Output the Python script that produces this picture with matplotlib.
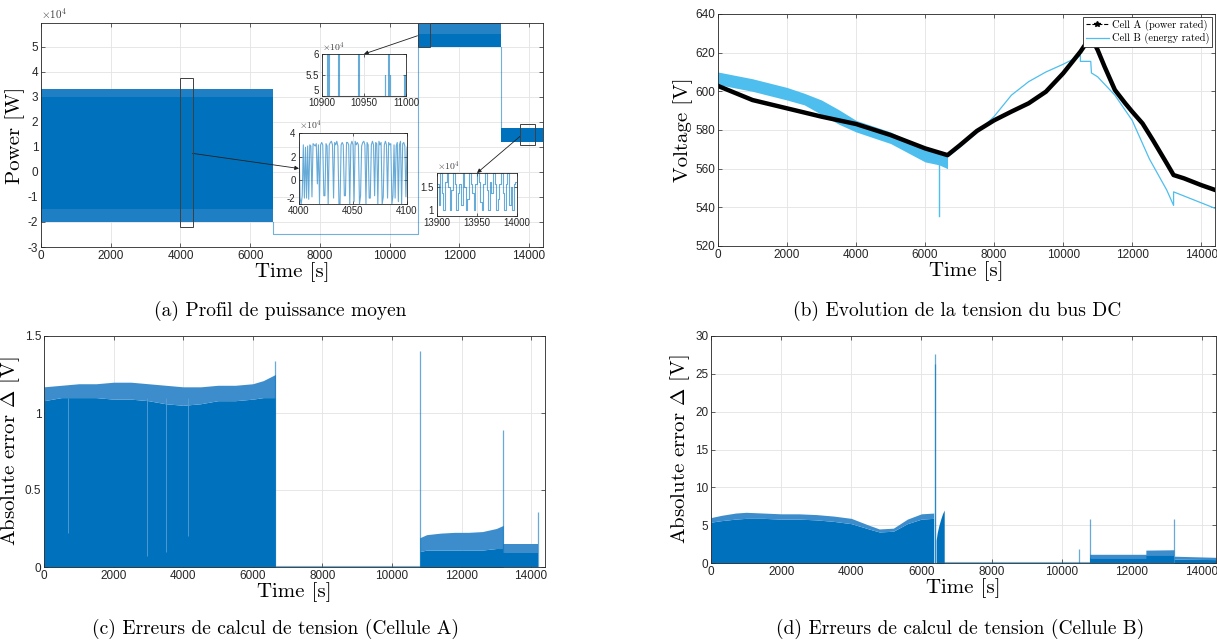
import numpy as np
import matplotlib.pyplot as plt
from matplotlib.patches import Rectangle
from matplotlib.lines import Line2D

plt.rcParams['axes.unicode_minus'] = False
plt.rcParams['mathtext.fontset'] = 'cm'

# ---- (a) power profile (W) ----
pa_t1 = [0, 6650]
pa_lo1 = [-2.0e4, -2.0e4]
pa_hi1 = [3.3e4, 3.3e4]
pa_link_t = [6650, 6650, 10800, 10800]
pa_link_v = [-2.0e4, -2.5e4, -2.5e4, 5.0e4]
pa_t2 = [10800, 13200]
pa_lo2 = [5.0e4, 5.0e4]
pa_hi2 = [5.95e4, 5.95e4]
pa_drop_t = [13200, 13200]
pa_drop_v = [5.0e4, 1.75e4]
pa_t3 = [13200, 14400]
pa_lo3 = [1.2e4, 1.2e4]
pa_hi3 = [1.75e4, 1.75e4]

# zoom windows (x0, x1, y0, y1)
zoom_boxes = [(3980, 4350, -2.2e4, 3.75e4), (10800, 11150, 5.0e4, 5.95e4), (13750, 14180, 1.06e4, 1.91e4)]

# inset 1 : 10900-11000 s, spikes above 5e4
in1_spike_t = [10907, 10908, 10920, 10943, 10975, 10979, 10981, 10998]
in1_spike_v = [6.0e4, 6.0e4, 6.0e4, 6.0e4, 5.5e4, 6.0e4, 5.5e4, 5.5e4]

# inset 2 : 4000-4100 s, one value per second (x1e4 W)
in2_t = list(range(4000, 4101))
in2_v = [3.2, -1.5, -2.0, -1.3, 3.0, -1.5, 2.8, -1.5, 2.9, -1.6,
         3.0, 2.9, -1.4, 3.1, 3.0, 2.9, 3.1, -0.3, 3.0, -2.0,
         3.0, 3.2, 3.0, -1.3, -1.3, 3.1, 2.9, -2.0, 3.0, 3.2,
         3.3, 3.0, -1.5, 3.2, 3.0, 3.3, 2.9, -2.0, -2.0, 3.0,
         3.2, 3.0, -1.3, -1.3, 3.2, 3.2, 3.0, -2.0, 3.0, 3.3,
         3.0, -1.8, 3.3, 3.0, 3.2, 3.0, -2.0, -1.3, 2.9, 3.2,
         3.3, 3.0, -2.0, 3.2, 3.0, -1.5, -1.5, 3.0, 3.3, 3.0,
         -1.3, 3.2, 3.1, -2.0, 3.3, 3.0, 3.2, -2.0, -1.4, 3.0,
         3.3, 3.0, -1.5, 3.2, 3.0, 3.1, -2.0, -1.3, 3.0, -1.5,
         2.9, 3.2, -1.8, 3.0, 3.3, -2.0, 3.1, 3.2, 2.9, -1.4,
         2.8]

# inset 3 : 13900-14000 s, every 2 s (x1e4 W)
in3_t = list(range(13900, 14001, 2))
in3_v = [1.55, 1.2, 1.75, 1.4, 1.1, 1.6, 1.75, 1.5, 1.1, 1.45,
         1.75, 1.55, 1.1, 1.4, 1.55, 1.2, 1.75, 1.5, 1.1, 1.3,
         1.75, 1.55, 1.4, 1.1, 1.55, 1.75, 1.6, 1.25, 1.1, 1.55,
         1.75, 1.45, 1.1, 1.6, 1.4, 1.75, 1.55, 1.1, 1.3, 1.55,
         1.75, 1.4, 1.1, 1.55, 1.75, 1.2, 1.5, 1.1, 1.55, 1.6, 1.45]

# ---- (b) DC bus voltage ----
va_t = [0, 1000, 2000, 3000, 4000, 5000, 6000, 6650, 7000, 7500, 8000, 8500, 9000, 9500,
        10000, 10500, 10800, 11000, 11200, 11500, 11800, 12000, 12300, 12600, 13000,
        13200, 13500, 14000, 14400]
va_v = [602.8, 595.5, 591.2, 586.9, 583.1, 577.4, 570.5, 567, 572, 579.5, 585, 589.5, 593.8, 599.8,
        609.3, 620.5, 628.3, 621.4, 612.8, 600.7, 593.8, 589.5, 583.4, 574.8, 562.8,
        556.7, 555, 551.5, 549]
vb_band_t = [0, 1000, 2000, 2500, 3000, 3500, 4000, 5000, 6000, 6400, 6650]
vb_band_hi = [610, 606.5, 602, 599, 595.5, 590.5, 585, 579, 570.5, 568.5, 568]
vb_band_lo = [603.5, 600, 595.5, 593, 588, 583, 579, 573, 563.5, 562, 560]
vb_spike_t = [6400, 6400]
vb_spike_v = [562, 535.5]
vb_t = [6650, 7000, 7500, 8000, 8500, 9000, 9500, 10000, 10500, 10500, 10800, 10820,
        11000, 11500, 12000, 12500, 13000, 13200, 13200, 14400]
vb_v = [566, 571, 578.5, 587, 598, 605, 610, 614, 618.5, 615.5, 615.5, 609.5,
        607.5, 598, 585, 565, 549, 541, 548, 539.5]

# ---- (c) error cell A ----
ca_t1 = [0, 500, 1000, 1500, 2000, 2500, 3000, 3500, 4000, 4500, 5000, 5500, 6000, 6300, 6650]
ca_hi1 = [1.17, 1.18, 1.19, 1.19, 1.20, 1.20, 1.19, 1.18, 1.17, 1.17, 1.18, 1.18, 1.19, 1.21, 1.25]
ca_mid1 = [1.08, 1.10, 1.10, 1.10, 1.09, 1.09, 1.08, 1.06, 1.05, 1.06, 1.08, 1.08, 1.09, 1.10, 1.10]
ca_gap_t = [700, 2950, 3500, 4150]
ca_gap_v = [0.22, 0.07, 0.10, 0.20]
ca_t2 = [10800, 11000, 11400, 11800, 12200, 12600, 13000, 13200]
ca_hi2 = [0.19, 0.21, 0.22, 0.225, 0.225, 0.23, 0.25, 0.27]
ca_mid2 = [0.10, 0.11, 0.11, 0.11, 0.11, 0.11, 0.12, 0.12]
ca_t3 = [13200, 14200]
ca_hi3 = [0.15, 0.15]
ca_mid3 = [0.09, 0.09]
ca_flat_t = [6650, 10800]
ca_flat_v = [0.004, 0.004]
ca_spk_t = [6650, 10800, 13200, 14200]
ca_spk_v = [1.34, 1.40, 0.89, 0.36]

# ---- (d) error cell B ----
cb_t1 = [0, 300, 700, 1000, 1500, 2000, 2500, 3000, 3500, 4000, 4500, 4800, 5200, 5600, 6000, 6350]
cb_hi1 = [6.0, 6.3, 6.6, 6.7, 6.6, 6.5, 6.5, 6.4, 6.2, 5.9, 5.0, 4.5, 4.6, 5.8, 6.5, 6.6]
cb_mid1 = [5.4, 5.6, 5.8, 5.9, 5.9, 5.8, 5.8, 5.7, 5.5, 5.2, 4.5, 4.1, 4.2, 5.2, 5.8, 5.9]
cb_t2 = [6420, 6450, 6500, 6550, 6600, 6650]
cb_hi2 = [3.0, 4.0, 5.0, 5.8, 6.5, 7.0]
cb_t3 = [10800, 12400, 12400, 13200]
cb_hi3 = [1.15, 1.15, 1.7, 1.75]
cb_mid3 = [0.6, 0.6, 1.0, 1.0]
cb_t4 = [13200, 14400]
cb_hi4 = [0.9, 0.75]
cb_mid4 = [0.5, 0.45]
cb_flat_t = [6650, 10800]
cb_flat_v = [0.1, 0.1]
cb_spk_t = [6380, 6400, 10500, 10800, 13200]
cb_spk_v = [26.3, 27.6, 1.8, 5.8, 5.8]

BLUE = '#0072BD'
LIGHT = '#3d8dcc'
CYAN = '#4DBEEE'
W, H = 1217, 644
SANS = 'Liberation Sans'
SERIF = 'cmr10'


def box(l, t, r, b):
    return [l / W, 1 - b / H, (r - l) / W, (b - t) / H]


def style(ax, fs=8.5, pad=2):
    ax.grid(True, color='#e3e3e3', lw=0.6)
    ax.set_axisbelow(True)
    for s in ax.spines.values():
        s.set_color('#262626')
        s.set_linewidth(0.6)
    ax.tick_params(direction='in', length=3, width=0.5, top=True, right=True,
                   labelsize=fs, colors='#262626', pad=pad)
    for lab in ax.get_xticklabels() + ax.get_yticklabels():
        lab.set_fontfamily(SANS)


def e4_ticks(ax, ticks, fs):
    # MATLAB style exponent: labels in units of 1e4 and a x10^4 note on top
    ax.set_yticks(ticks)
    ax.set_yticklabels(['%g' % (v / 1e4) for v in ticks])
    ax.text(0, 1.01, r'$\mathsf{\times 10^{4}}$', transform=ax.transAxes, ha='left', va='bottom',
            fontsize=fs, color='#404040')


fig = plt.figure(figsize=(W / 100, H / 100), dpi=100)

# (a)
ax = fig.add_axes(box(41, 23, 543, 247))
ax.fill_between(pa_t1, pa_lo1, pa_hi1, color=BLUE, lw=0)
ax.fill_between(pa_t1, [3.0e4] * 2, pa_hi1, color=LIGHT, lw=0, alpha=0.5)
ax.fill_between(pa_t1, pa_lo1, [-1.5e4] * 2, color=LIGHT, lw=0, alpha=0.5)
ax.plot(pa_link_t, pa_link_v, color=BLUE, lw=0.8, alpha=0.55)
ax.fill_between(pa_t2, pa_lo2, pa_hi2, color=BLUE, lw=0)
ax.fill_between(pa_t2, [5.5e4] * 2, pa_hi2, color=LIGHT, lw=0, alpha=0.6)
ax.plot(pa_drop_t, pa_drop_v, color=BLUE, lw=0.8, alpha=0.55)
ax.fill_between(pa_t3, pa_lo3, pa_hi3, color=BLUE, lw=0)
for x0, x1, y0, y1 in zoom_boxes:
    ax.add_patch(Rectangle((x0, y0), x1 - x0, y1 - y0, fill=False, ec='#404040', lw=0.7, zorder=5))
ax.set_xlim(0, 14400)
ax.set_ylim(-3e4, 5.95e4)
ax.set_xticks(range(0, 14001, 2000))
e4_ticks(ax, np.arange(-3e4, 5.1e4, 1e4), 8)
style(ax)
ax.set_xlabel('Time [s]', fontname=SERIF, fontsize=15, labelpad=0)
ax.set_ylabel('Power [W]', fontname=SERIF, fontsize=15, labelpad=2)

# insets
ax1 = fig.add_axes(box(322, 54, 406, 96))
st, sv = [10900], [5.0e4]
for t, v in zip(in1_spike_t, in1_spike_v):
    st += [t - 0.5, t - 0.5, t + 0.5, t + 0.5]
    sv += [5.0e4, v, v, 5.0e4]
st.append(11000)
sv.append(5.0e4)
ax1.plot(st, sv, color=BLUE, lw=0.8, alpha=0.6)
ax1.set_xlim(10900, 11000)
ax1.set_ylim(5e4, 6e4)
ax1.set_xticks([10900, 10950, 11000])
e4_ticks(ax1, [5e4, 5.5e4, 6e4], 7)

ax2 = fig.add_axes(box(299, 133, 407, 204))
ax2.plot(in2_t, np.array(in2_v) * 1e4, color=BLUE, lw=0.8, alpha=0.6)
ax2.set_xlim(4000, 4100)
ax2.set_ylim(-2e4, 4e4)
ax2.set_xticks([4000, 4050, 4100])
e4_ticks(ax2, [-2e4, 0, 2e4, 4e4], 7)

ax3 = fig.add_axes(box(437, 173, 517, 216))
ax3.step(in3_t, np.array(in3_v) * 1e4, where='post', color=BLUE, lw=0.8, alpha=0.6)
ax3.set_xlim(13900, 14000)
ax3.set_ylim(1e4, 1.75e4)
ax3.set_xticks([13900, 13950, 14000])
e4_ticks(ax3, [1e4, 1.5e4], 7)

for a in (ax1, ax2, ax3):
    style(a, fs=7, pad=1.5)
    a.tick_params(length=2)
    a.tick_params(axis='y', pad=2.5)
    a.yaxis.get_majorticklabels()[0].set_va('bottom')

arrow = dict(arrowstyle='-|>', color='#202020', lw=0.6, mutation_scale=6, shrinkA=0, shrinkB=0)
ax.annotate('', xy=(4000, 1.0e4), xycoords=ax2.transData, xytext=(4350, 0.74e4),
            textcoords=ax.transData, arrowprops=arrow, annotation_clip=False)
ax.annotate('', xy=(10950, 6.0e4), xycoords=ax1.transData, xytext=(10800, 5.44e4),
            textcoords=ax.transData, arrowprops=arrow, annotation_clip=False)
ax.annotate('', xy=(13950, 1.75e4), xycoords=ax3.transData, xytext=(13750, 1.43e4),
            textcoords=ax.transData, arrowprops=arrow, annotation_clip=False)

# (b)
bx = fig.add_axes(box(718, 14, 1215, 246))
bx.fill_between(vb_band_t, vb_band_lo, vb_band_hi, color=CYAN, lw=0)
bx.plot(vb_spike_t, vb_spike_v, color=CYAN, lw=1.0)
bx.plot(vb_t, vb_v, color=CYAN, lw=0.9)
bx.plot(va_t, va_v, color='black', lw=3.2, solid_joinstyle='round')
bx.set_xlim(0, 14400)
bx.set_ylim(520, 640)
bx.set_xticks(range(0, 14001, 2000))
bx.set_yticks(range(520, 641, 20))
style(bx)
bx.set_xlabel('Time [s]', fontname=SERIF, fontsize=15, labelpad=0)
bx.set_ylabel('Voltage [V]', fontname=SERIF, fontsize=15, labelpad=2)
handles = [Line2D([], [], color='black', ls='--', marker='*', ms=4, lw=0.8),
           Line2D([], [], color=CYAN, lw=0.9)]
leg = bx.legend(handles, ['Cell A (power rated)', 'Cell B (energy rated)'], loc='upper right',
                prop={'family': SERIF, 'size': 7.5}, fancybox=False, edgecolor='#262626',
                framealpha=1, borderpad=0.25, handlelength=2.2, handletextpad=0.3,
                labelspacing=0.2, borderaxespad=0.3)
leg.get_frame().set_linewidth(0.6)

# (c)
cx = fig.add_axes(box(44, 336, 545, 567))
cx.fill_between(ca_t1, 0, ca_mid1, color=BLUE, lw=0)
cx.fill_between(ca_t1, ca_mid1, ca_hi1, color=LIGHT, lw=0)
cx.vlines(ca_gap_t, ca_gap_v, 1.1, color='#5a9fd6', lw=0.6)
cx.fill_between(ca_t2, 0, ca_mid2, color=BLUE, lw=0)
cx.fill_between(ca_t2, ca_mid2, ca_hi2, color=LIGHT, lw=0)
cx.fill_between(ca_t3, 0, ca_mid3, color=BLUE, lw=0)
cx.fill_between(ca_t3, ca_mid3, ca_hi3, color=LIGHT, lw=0)
cx.plot(ca_flat_t, ca_flat_v, color=BLUE, lw=0.8, alpha=0.55)
cx.vlines(ca_spk_t, 0, ca_spk_v, color=BLUE, lw=0.9, alpha=0.6)
cx.set_xlim(0, 14400)
cx.set_ylim(0, 1.5)
cx.set_xticks(range(0, 14001, 2000))
cx.set_yticks([0, 0.5, 1, 1.5])
cx.set_yticklabels(['0', '0.5', '1', '1.5'])
style(cx)
cx.set_xlabel('Time [s]', fontname=SERIF, fontsize=15, labelpad=0)
cx.set_ylabel(r'Absolute error $\Delta$ [V]', fontname=SERIF, fontsize=15, labelpad=2)

# (d)
dx = fig.add_axes(box(711, 336, 1216, 563))
dx.fill_between(cb_t1, 0, cb_mid1, color=BLUE, lw=0)
dx.fill_between(cb_t1, cb_mid1, cb_hi1, color=LIGHT, lw=0)
dx.fill_between(cb_t2, 0, cb_hi2, color=BLUE, lw=0)
dx.fill_between(cb_t3, 0, cb_mid3, color=BLUE, lw=0)
dx.fill_between(cb_t3, cb_mid3, cb_hi3, color=LIGHT, lw=0)
dx.fill_between(cb_t4, 0, cb_mid4, color=BLUE, lw=0)
dx.fill_between(cb_t4, cb_mid4, cb_hi4, color=LIGHT, lw=0)
dx.plot(cb_flat_t, cb_flat_v, color=BLUE, lw=0.8, alpha=0.55)
dx.vlines(cb_spk_t, 0, cb_spk_v, color=BLUE, lw=0.9, alpha=0.6)
dx.set_xlim(0, 14400)
dx.set_ylim(0, 30)
dx.set_xticks(range(0, 14001, 2000))
dx.set_yticks(range(0, 31, 5))
style(dx)
dx.set_xlabel('Time [s]', fontname=SERIF, fontsize=15, labelpad=0)
dx.set_ylabel(r'Absolute error $\Delta$ [V]', fontname=SERIF, fontsize=15, labelpad=2)

# captions
fig.text(280 / W, 1 - 311 / H, '(a) Profil de puissance moyen', ha='center', va='center', fontname=SERIF, fontsize=14)
fig.text(957 / W, 1 - 311 / H, '(b) Evolution de la tension du bus DC', ha='center', va='center', fontname=SERIF, fontsize=14)
fig.text(275 / W, 1 - 629 / H, '(c) Erreurs de calcul de tension (Cellule A)', ha='center', va='center', fontname=SERIF, fontsize=14)
fig.text(960 / W, 1 - 629 / H, '(d) Erreurs de calcul de tension (Cellule B)', ha='center', va='center', fontname=SERIF, fontsize=14)

fig.savefig('out.png', dpi=100)
